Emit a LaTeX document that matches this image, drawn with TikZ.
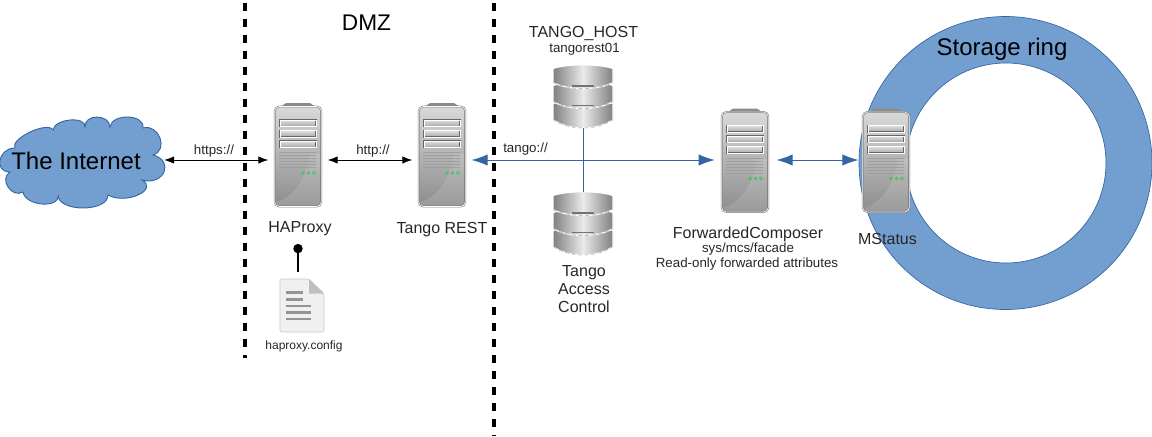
\documentclass[tikz,border=0pt]{standalone}
\usepackage{fontspec}
\setmainfont{Liberation Sans}
\usetikzlibrary{arrows.meta}
\definecolor{ringblue}{HTML}{729FCF}
\definecolor{lineblue}{HTML}{3465A4}
\definecolor{ledgreen}{HTML}{33C24A}
\tikzset{
  label/.style={inner sep=0pt, text=black!85, font=\fontsize{12}{13.5}\selectfont, align=center},
  smalllabel/.style={inner sep=0pt, text=black!85, font=\fontsize{10}{13}\selectfont, align=center},
  biglabel/.style={inner sep=0pt, font=\fontsize{18}{20}\selectfont},
  fence/.style={line width=3pt, dash pattern=on 6pt off 6pt},
  webarrow/.style={{Latex[length=7.5pt,width=5.5pt]}-{Latex[length=7.5pt,width=5.5pt]}, line width=.75pt, shorten <=4.5pt, shorten >=4.5pt},
  tangoarrow/.style={{Latex[length=12pt,width=8.5pt]}-{Latex[length=12pt,width=8.5pt]}, lineblue, line width=.75pt},
  serverbody/.style={draw=black!55, double=white, double distance=.5pt, rounded corners=3.5pt, inner sep=0pt,
    minimum width=35pt, minimum height=75pt, top color=black!15, middle color=black!28, bottom color=black!45},
  bay/.style={draw=black!60, double=white, double distance=.3pt, line width=.35pt, top color=black!12, bottom color=black!35},
  server/.pic={
    \fill[black!45] (-17,-50) -- (-12,-53.5) -- (12,-53.5) -- (17,-50) -- cycle;
    \node[serverbody] (-body) at (0,0) {};
    \fill[white, opacity=.12] (12,-3) .. controls (8,25) and (-5,40) .. (-22,46) -- (-20,49) -- (22,49) -- (22,-3) -- cycle;
    \foreach \y in {-36.5,-26,-15.5}
      \draw[bay] (-18,\y) rectangle (18,\y+6.5);
    \foreach \y in {-4,-1,2,5,8,11}
      \draw[black!38, line width=.45pt] (-19,\y) -- (18,\y);
    \foreach \x in {5,10.5,16}
      \draw[ledgreen, line width=.5pt] (\x,16.5) circle (1.5);
  },
  database/.pic={
    \node[minimum width=45pt, minimum height=47pt, inner sep=0pt] (-body) at (0,0) {};
    \foreach \t/\b/\s in {7/23/8.5,-11/5/7,-28/-14/6}
      \shadedraw[left color=black!50, right color=black!50, middle color=black!8, draw=white, line width=.9pt]
        (-30,\t) .. controls (-15,\t-5) and (15,\t-5) .. (30,\t) -- (30,\b)
        .. controls (15,\b+\s*1.33) and (-15,\b+\s*1.33) .. (-30,\b) -- cycle;
    \foreach \t/\b/\s in {7/23/8.5,-11/5/7,-28/-14/6}
      \draw[black!40, line width=.3pt, densely dashed] (-30,\b) .. controls (-15,\b+\s*1.33) and (15,\b+\s*1.33) .. (30,\b);
    \draw[black!55, line width=.9pt] (-11,-10.5) -- (11,-10.5);
    \draw[black!55, line width=.9pt] (-11,9) -- (11,9);
  },
  document/.pic={
    \node[minimum width=33pt, minimum height=39.5pt, inner sep=0pt] (-body) at (0,0) {};
    \draw[black!22, fill=black!6, rounded corners=1.5pt] (-22,-26.5) -- (7,-26.5) -- (22,-12) -- (22,26.5) -- (-22,26.5) -- cycle;
    \fill[black!25] (7,-26.5) -- (22,-12) -- (7,-12) -- cycle;
    \foreach \y/\x in {-13/1,-6/1,0.5/9,7/9,13.5/9}
      \draw[black!42, line width=1.9pt] (-16,\y) -- (\x,\y);
  },
}
\begin{document}
\begin{tikzpicture}[x=.75pt, y=-.75pt]
\useasboundingbox (0,0) rectangle (1152,436);
% Storage ring
\fill[ringblue, draw=lineblue, line width=.5pt, even odd rule] (1005.5,163) circle (146.5) (1006,163) circle (100);
\node[biglabel] (ringlabel) at (1002,49) {Storage ring};
% Cloud
\draw[fill=ringblue, draw=lineblue, line width=.7pt] (15,148)
  .. controls (9.7,138.7) and (47.7,120.7) .. (53,130)
  .. controls (54.3,118.7) and (86.3,115.7) .. (85,127)
  .. controls (84.3,113.7) and (109.3,113.7) .. (110,127)
  .. controls (112,113) and (145,114) .. (143,128)
  .. controls (159,123.3) and (169,150.3) .. (153,155)
  .. controls (175,161) and (164,186) .. (142,180)
  .. controls (159.3,190) and (125.3,205) .. (108,195)
  .. controls (108,212.3) and (58,212.3) .. (58,195)
  .. controls (60,209) and (25,206) .. (23,192)
  .. controls (11.7,198.7) and (-1.3,178.7) .. (10,172)
  .. controls (-6.7,172) and (-1.7,148) .. (15,148) -- cycle;
\node[biglabel] (cloud) at (76,161) {The Internet};
\coordinate (cloudedge) at (164,160);
% Servers
\pic (haproxy) at (298,156.5) {server};
\pic (rest) at (442,156.5) {server};
\pic (composer) at (745,162) {server};
\pic (mstatus) at (886,162) {server};
\pic (tangohost) at (583,96.5) {database};
\pic (access) at (583,223.5) {database};
\pic (config) at (302,305.5) {document};
% Texts
\node[biglabel, font=\fontsize{17}{20}\selectfont] (dmz) at (366.5,23) {DMZ};
\node[label] (hostlabel) at (583.5,33.5) {TANGO\_HOST};
\node[smalllabel] (hostname) at (584.5,49.5) {tangorest01};
\node[label] (halabel) at (300,228.5) {HAProxy};
\node[label] (restlabel) at (442,229.5) {Tango REST};
\node[label] (accesslabel) at (584,289.5) {Tango\\Access\\Control};
\node[label] (composerlabel) at (748,234.5) {ForwardedComposer};
\node[smalllabel] (facade) at (748,249.5) {sys/mcs/facade};
\node[smalllabel] (forwarded) at (747,264.5) {Read-only forwarded attributes};
\node[label] (mstatuslabel) at (887.5,239) {MStatus};
\node[smalllabel, font=\fontsize{9}{11}\selectfont] (configlabel) at (304,346.5) {haproxy.config};
\node[smalllabel] (https) at (214,151.5) {https://};
\node[smalllabel] (http) at (373,151.5) {http://};
\node[smalllabel] (tango) at (525.5,149.5) {tango://};
% Links
\coordinate (linkrow) at (0,160);
\draw[webarrow, shorten <=0pt] (cloudedge) -- (haproxy-body.west |- linkrow);
\draw[webarrow] (haproxy-body.east |- linkrow) -- (rest-body.west |- linkrow);
\draw[tangoarrow, shorten <=4.5pt, shorten >=5pt] (rest-body.east |- linkrow) -- (composer-body.west |- linkrow);
\draw[tangoarrow, shorten <=6pt, shorten >=3pt] (composer-body.east |- linkrow) -- (mstatus-body.west |- linkrow);
\draw[lineblue, line width=.75pt] (tangohost-body.south) -- (access-body.north);
\draw[{Circle[length=7pt]}-, line width=1.2pt, shorten <=6pt, shorten >=5pt] (halabel.south -| haproxy-body.south) -- (config-body.north -| haproxy-body.south);
% Fences
\coordinate (fenceatop) at (245,3);
\coordinate (fenceabottom) at (245,358);
\coordinate (fencebtop) at (494,3);
\coordinate (fencebbottom) at (494,436);
\draw[fence] (fenceatop) -- (fenceabottom);
\draw[fence] (fencebtop) -- (fencebbottom);
\end{tikzpicture}
\end{document}
